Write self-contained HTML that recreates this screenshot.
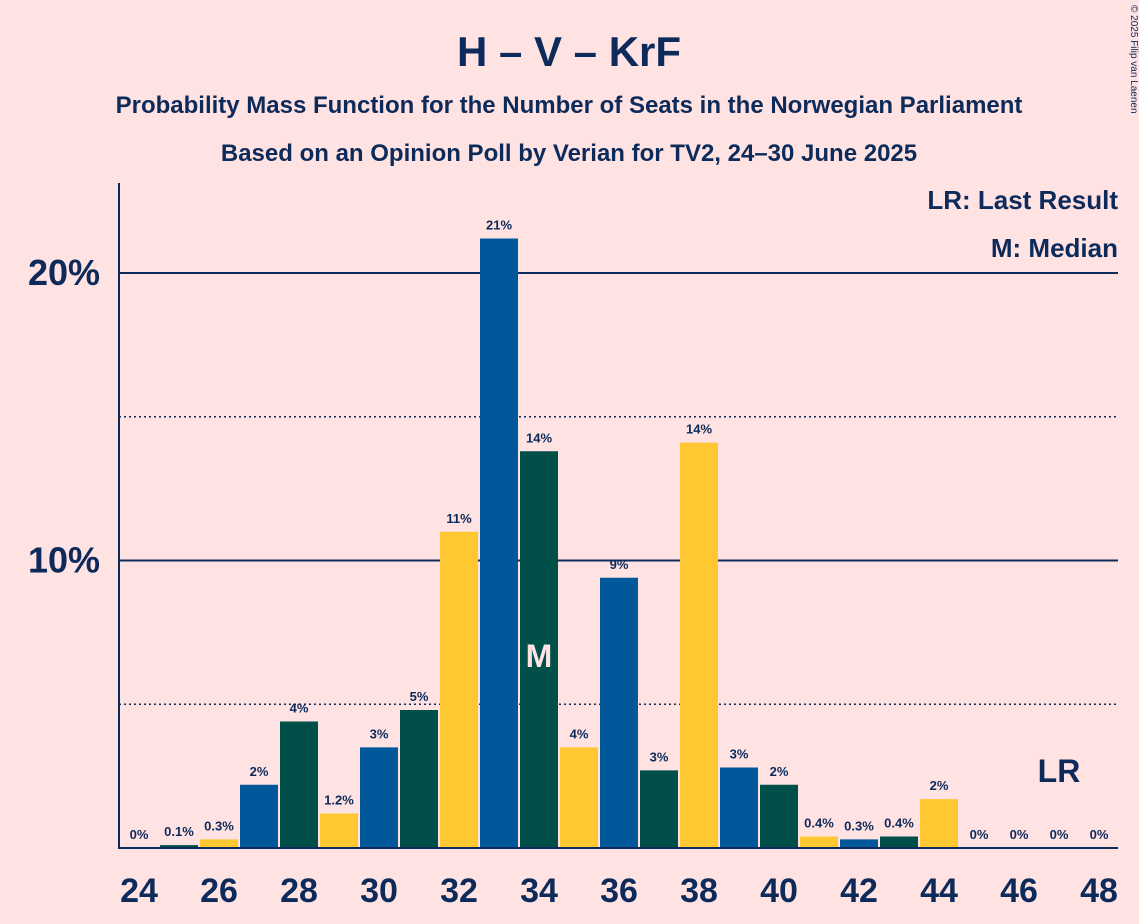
<!DOCTYPE html>
<html><head><meta charset="utf-8"><style>
body{margin:0;background:#FFE2E2;}
svg{display:block;font-family:"Liberation Sans",sans-serif;}
</style></head><body>
<svg id="chart" width="1139" height="924" viewBox="0 0 1139 924">
<rect width="1139" height="924" fill="#FFE2E2"/>
<text x="569" y="66" text-anchor="middle" font-size="42" font-weight="bold" fill="#0C2A5A">H – V – KrF</text>
<text x="569" y="113" text-anchor="middle" font-size="24" font-weight="bold" fill="#0C2A5A">Probability Mass Function for the Number of Seats in the Norwegian Parliament</text>
<text x="569" y="161" text-anchor="middle" font-size="24" font-weight="bold" fill="#0C2A5A">Based on an Opinion Poll by Verian for TV2, 24–30 June 2025</text>
<text x="1131" y="5" font-size="10" fill="#0C2A5A" transform="rotate(90 1131 5)">© 2025 Filip van Laenen</text>
<g id="grid"></g>
<g id="bars"></g>
<g id="axes"></g>
<text x="1118" y="209" text-anchor="end" font-size="26" font-weight="bold" fill="#0C2A5A">LR: Last Result</text>
<text x="1118" y="257" text-anchor="end" font-size="26" font-weight="bold" fill="#0C2A5A">M: Median</text>
</svg>
<script>
const seats=[24,25,26,27,28,29,30,31,32,33,34,35,36,37,38,39,40,41,42,43,44,45,46,47,48];
const values=[0,0.1,0.3,2.2,4.4,1.2,3.5,4.8,11.0,21.2,13.8,3.5,9.4,2.7,14.1,2.8,2.2,0.4,0.3,0.4,1.7,0,0,0,0];
const labels=["0%","0.1%","0.3%","2%","4%","1.2%","3%","5%","11%","21%","14%","4%","9%","3%","14%","3%","2%","0.4%","0.3%","0.4%","2%","0%","0%","0%","0%"];
const yTicks=[10,20];
const yMinor=[5,15];
const xTickSeats=[24,26,28,30,32,34,36,38,40,42,44,46,48];
const medianSeat=34, lastResultSeat=47;
const colors=["#00579A","#004F48","#FFC832"];
const NS="http://www.w3.org/2000/svg";
const x0=139, dx=40, yBase=848, pxPer=28.75;
const xS=s=>x0+(s-24)*dx;
const yV=v=>yBase-v*pxPer;
function mk(t,a,p){const e=document.createElementNS(NS,t);for(const k in a)e.setAttribute(k,a[k]);p.appendChild(e);return e;}
const grid=document.getElementById('grid'),bars=document.getElementById('bars'),axes=document.getElementById('axes');
yMinor.forEach(v=>{const l=mk('line',{x1:119,x2:1118,y1:yV(v),y2:yV(v),stroke:'#0C2A5A','stroke-width':1.5,'stroke-dasharray':'2,3'},grid);

});
yTicks.forEach(v=>{const l=mk('line',{x1:119,x2:1118,y1:yV(v),y2:yV(v),stroke:'#0C2A5A','stroke-width':2},grid);


const t=mk('text',{x:100,y:yV(v)+12,'text-anchor':'end','font-size':36,'font-weight':'bold',fill:'#0C2A5A'},axes);t.textContent=v+'%';

});
seats.forEach((s,i)=>{const v=values[i];const cx=xS(s);
const r=mk('rect',{x:cx-19,y:yV(v),width:38,height:v*pxPer,fill:colors[(s-24)%3]},bars);


const t=mk('text',{x:cx,y:yV(v)-9,'text-anchor':'middle','font-size':13,'font-weight':'bold',fill:'#0C2A5A'},bars);t.textContent=labels[i];

});
const m=mk('text',{x:xS(medianSeat),y:667,'text-anchor':'middle','font-size':32,'font-weight':'bold',fill:'#FFE2E2'},bars);m.textContent='M';


const lr=mk('text',{x:xS(lastResultSeat),y:782,'text-anchor':'middle','font-size':32,'font-weight':'bold',fill:'#0C2A5A'},bars);lr.textContent='LR';


const ya=mk('line',{x1:119,x2:119,y1:183,y2:849,stroke:'#0C2A5A','stroke-width':2},axes);


const xa=mk('line',{x1:118,x2:1118,y1:848,y2:848,stroke:'#0C2A5A','stroke-width':2},axes);


xTickSeats.forEach(s=>{const t=mk('text',{x:xS(s),y:902,'text-anchor':'middle','font-size':34,'font-weight':'bold',fill:'#0C2A5A'},axes);t.textContent=s;

});
</script>
</body></html>
